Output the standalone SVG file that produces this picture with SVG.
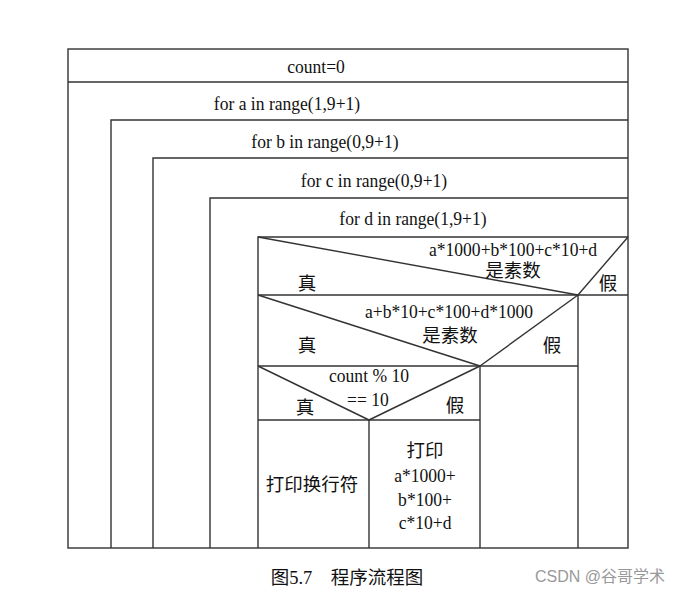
<svg xmlns="http://www.w3.org/2000/svg" width="684" height="594" viewBox="0 0 684 594">
<style>
.ln{fill:none;stroke:#333;stroke-width:1.4}
.t{font-family:"Liberation Serif","Noto Sans CJK SC",serif;font-size:19.5px;fill:#111;text-anchor:middle;transform-box:fill-box;transform-origin:center;transform:scaleX(0.9)}
.c{font-family:"Liberation Serif","Noto Sans CJK SC",serif;font-size:18.5px;fill:#111;text-anchor:middle}
</style>
<rect width="684" height="594" fill="#fff"/>
<g id="outer"><rect class="ln" x="68" y="49" width="560" height="499"/></g>
<g id="init"><line class="ln" x1="68" y1="82" x2="628" y2="82"/><text class="t" x="316" y="73">count=0</text></g>
<g id="loop-a"><text class="t" x="287" y="110">for a in range(1,9+1)</text></g>
<g id="loop-b"><polyline class="ln" points="628,120 111,120 111,548"/><text class="t" x="325" y="148">for b in range(0,9+1)</text></g>
<g id="loop-c"><polyline class="ln" points="628,158 153,158 153,548"/><text class="t" x="374" y="187">for c in range(0,9+1)</text></g>
<g id="loop-d"><polyline class="ln" points="628,198 210,198 210,548"/><text class="t" x="413" y="225">for d in range(1,9+1)</text></g>
<g id="if1">
<polyline class="ln" points="628,237 258,237 258,548"/>
<line class="ln" x1="258" y1="295" x2="628" y2="295"/>
<line class="ln" x1="258" y1="237" x2="578" y2="295"/>
<line class="ln" x1="628" y1="237" x2="578" y2="295"/>
<line class="ln" x1="578" y1="295" x2="578" y2="548"/>
<text class="t" x="513" y="256">a*1000+b*100+c*10+d</text>
<text class="c" x="513" y="277">是素数</text>
<text class="c" x="307" y="290">真</text>
<text class="c" x="608" y="290">假</text>
</g>
<g id="if2">
<line class="ln" x1="258" y1="366" x2="578" y2="366"/>
<line class="ln" x1="258" y1="295" x2="480" y2="366"/>
<line class="ln" x1="578" y1="295" x2="480" y2="366"/>
<line class="ln" x1="480" y1="366" x2="480" y2="548"/>
<text class="t" x="449" y="318">a+b*10+c*100+d*1000</text>
<text class="c" x="450" y="342">是素数</text>
<text class="c" x="307" y="352">真</text>
<text class="c" x="552" y="352">假</text>
</g>
<g id="if3">
<line class="ln" x1="258" y1="420" x2="480" y2="420"/>
<line class="ln" x1="258" y1="366" x2="369" y2="420"/>
<line class="ln" x1="480" y1="366" x2="369" y2="420"/>
<line class="ln" x1="369" y1="420" x2="369" y2="548"/>
<text class="t" x="369" y="382">count % 10</text>
<text class="t" x="368" y="406">== 10</text>
<text class="c" x="305" y="414">真</text>
<text class="c" x="455" y="412">假</text>
</g>
<g id="newline"><text class="c" x="312" y="491">打印换行符</text></g>
<g id="print">
<text class="c" x="425" y="457">打印</text>
<text class="t" x="425" y="482">a*1000+</text>
<text class="t" x="425" y="506">b*100+</text>
<text class="t" x="425" y="529">c*10+d</text>
</g>
<g id="connectors"></g>
<g id="caption">
<text class="c" x="347" y="584">图5.7　程序流程图</text>
<text x="600" y="582" style="font-family:'Liberation Sans','Noto Sans CJK SC',sans-serif;font-size:16px;fill:#999;text-anchor:middle">CSDN @谷哥学术</text>
</g>
</svg>
